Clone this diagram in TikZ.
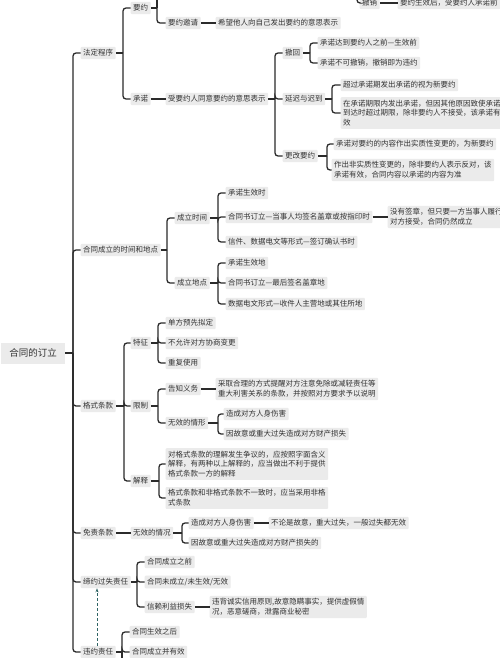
\documentclass[tikz,border=0pt]{standalone}
\usepackage{fontspec}
\setmainfont{Noto Sans CJK SC}
\usetikzlibrary{arrows.meta}
\definecolor{boxgray}{HTML}{EBEBEB}
\definecolor{txt}{HTML}{333333}
\definecolor{linec}{HTML}{2B2B2B}
\definecolor{teal}{HTML}{2F6464}
\tikzset{
  box/.style={fill=boxgray, text=txt, inner xsep=2.5pt, inner ysep=2.6pt, anchor=west, xshift=-2.5pt,
    font=\fontsize{7.5}{9.8}\selectfont, align=left, rounded corners=1pt},
  rootbox/.style={fill=boxgray, text=txt, font=\fontsize{9.5}{11}\selectfont, minimum width=64pt, minimum height=21pt, inner sep=0pt},
  conn/.style={draw=linec, line width=1.3pt},
  dasharr/.style={draw=teal, line width=0.9pt, dash pattern=on 3pt off 2pt, -{Stealth[length=4pt,width=3pt]}}
}
\newcommand\mmb[3]{%
  \coordinate (#1-s) at (#2,0);
  \coordinate (#1-j) at (#1.east -| #1-s);
  \draw[conn] (#1.east) -- (#1-j);
  \foreach \c in {#3}{\draw[conn,rounded corners=3pt] (#1-j) |- (\c.west);}
}
\begin{document}
\begin{tikzpicture}[x=1pt,y=-1pt]
\useasboundingbox (0,0) rectangle (500,658);
\clip (0,0) rectangle (500,658);
\fill[white] (0,0) rectangle (500,658);

% root
\node[rootbox] (root) at (33,353) {合同的订立};

% level 1
\node[box] (fd) at (83,53) {法定程序};
\node[box] (sj) at (83,250) {合同成立的时间和地点};
\node[box] (gs) at (83,406) {格式条款};
\node[box] (mz) at (83,533) {免责条款};
\node[box] (dy) at (83,582) {缔约过失责任};
\node[box] (wy) at (83,652) {违约责任};
\mmb{root}{73}{fd,sj,gs,mz,dy,wy}

% 法定程序
\node[box] (yy) at (133,8) {要约};
\node[box] (cn) at (133,99) {承诺};
\mmb{fd}{123}{yy,cn}

\node[box] (yyq) at (168,23) {要约邀请};
\mmb{yy}{157}{yyq}
\coordinate (yyTop) at (157,-10);
\draw[conn] (yy-j) -- (yyTop);
\node[box] (yyqd) at (218,23) {希望他人向自己发出要约的意思表示};
\draw[conn] (yyq.east) -- (yyqd.west);

% top partial branch
\node[box] (cx) at (362,3) {撤销};
\node[box] (cxd) at (400,3) {要约生效后，受要约人承诺前};
\coordinate (cxTop) at (357,-10);
\draw[conn,rounded corners=3pt] (cxTop) |- (cx.west);
\draw[conn] (cx.east) -- (cxd.west);

\node[box] (cnd) at (168,99) {受要约人同意要约的意思表示};
\draw[conn] (cn.east) -- (cnd.west);

\node[box] (ch) at (285,53) {撤回};
\node[box] (yc) at (285,99) {延迟与迟到};
\node[box] (gg) at (285,156) {更改要约};
\mmb{cnd}{275}{ch,yc,gg}

\node[box] (ch1) at (320,43) {承诺达到要约人之前—生效前};
\node[box] (ch2) at (320,63) {承诺不可撤销，撤销即为违约};
\mmb{ch}{310}{ch1,ch2}

\node[box] (yc1) at (343,85) {超过承诺期发出承诺的视为新要约};
\node[box] (yc2) at (343,113) {在承诺期限内发出承诺，但因其他原因致使承诺\\到达时超过期限，除非要约人不接受，该承诺有\\效};
\mmb{yc}{332}{yc1,yc2}

\node[box] (gg1) at (336,144) {承诺对要约的内容作出实质性变更的，为新要约};
\node[box] (gg2) at (334,170) {作出非实质性变更的，除非要约人表示反对，该\\承诺有效，合同内容以承诺的内容为准};
\mmb{gg}{327}{gg1,gg2}

% 合同成立的时间和地点
\node[box] (clsj) at (177,218) {成立时间};
\node[box] (cldd) at (177,283) {成立地点};
\mmb{sj}{167}{clsj,cldd}

\node[box] (t1) at (228,193) {承诺生效时};
\node[box] (t2) at (228,217) {合同书订立—当事人均签名盖章或按指印时};
\node[box] (t3) at (228,242) {信件、数据电文等形式—签订确认书时};
\mmb{clsj}{218}{t1,t2,t3}
\node[box] (t2d) at (390,217) {没有签章，但只要一方当事人履行\\对方接受，合同仍然成立};
\draw[conn] (t2.east) -- (t2d.west);

\node[box] (d1) at (228,263) {承诺生效地};
\node[box] (d2) at (228,283) {合同书订立—最后签名盖章地};
\node[box] (d3) at (228,304) {数据电文形式—收件人主营地或其住所地};
\mmb{cldd}{218}{d1,d2,d3}

% 格式条款
\node[box] (tz) at (133,343) {特征};
\node[box] (xz) at (133,406) {限制};
\node[box] (js) at (133,481) {解释};
\mmb{gs}{124}{tz,xz,js}

\node[box] (tz1) at (168,323) {单方预先拟定};
\node[box] (tz2) at (168,343) {不允许对方协商变更};
\node[box] (tz3) at (168,363) {重复使用};
\mmb{tz}{158}{tz1,tz2,tz3}

\node[box] (gz) at (168,389) {告知义务};
\node[box] (wx) at (168,423) {无效的情形};
\mmb{xz}{158}{gz,wx}
\node[box] (gzd) at (218,389) {采取合理的方式提醒对方注意免除或减轻责任等\\重大利害关系的条款，并按照对方要求予以说明};
\draw[conn] (gz.east) -- (gzd.west);

\node[box] (wx1) at (226,414) {造成对方人身伤害};
\node[box] (wx2) at (226,434) {因故意或重大过失造成对方财产损失};
\mmb{wx}{218}{wx1,wx2}

\node[box] (js1) at (168,464) {对格式条款的理解发生争议的，应按照字面含义\\解释，有两种以上解释的，应当做出不利于提供\\格式条款一方的解释};
\node[box] (js2) at (168,498) {格式条款和非格式条款不一致时，应当采用非格\\式条款};
\mmb{js}{159}{js1,js2}

% 免责条款
\node[box] (mzq) at (133,533) {无效的情况};
\draw[conn] (mz.east) -- (mzq.west);
\node[box] (mz1) at (191,523) {造成对方人身伤害};
\node[box] (mz2) at (191,543) {因故意或重大过失造成对方财产损失的};
\mmb{mzq}{182}{mz1,mz2}
\node[box] (mz1d) at (271,523) {不论是故意，重大过失，一般过失都无效};
\draw[conn] (mz1.east) -- (mz1d.west);

% 缔约过失责任
\node[box] (dy1) at (147,562) {合同成立之前};
\node[box] (dy2) at (147,582) {合同未成立/未生效/无效};
\node[box] (dy3) at (147,607) {信赖利益损失};
\mmb{dy}{137}{dy1,dy2,dy3}
\node[box] (dy3d) at (212,607) {违背诚实信用原则,故意隐瞒事实，提供虚假情\\况，恶意磋商，泄露商业秘密};
\draw[conn] (dy3.east) -- (dy3d.west);

% 违约责任
\node[box] (wy1) at (132,632) {合同生效之后};
\node[box] (wy2) at (132,652) {合同成立并有效};
\mmb{wy}{122}{wy1,wy2}
\coordinate (wyBot) at (122,670);
\draw[conn] (wy-j) -- (wyBot);

% dashed arrow
\coordinate (ax) at (97,0);
\draw[dasharr] (wy.north -| ax) -- (dy.south -| ax);
\end{tikzpicture}
\end{document}
